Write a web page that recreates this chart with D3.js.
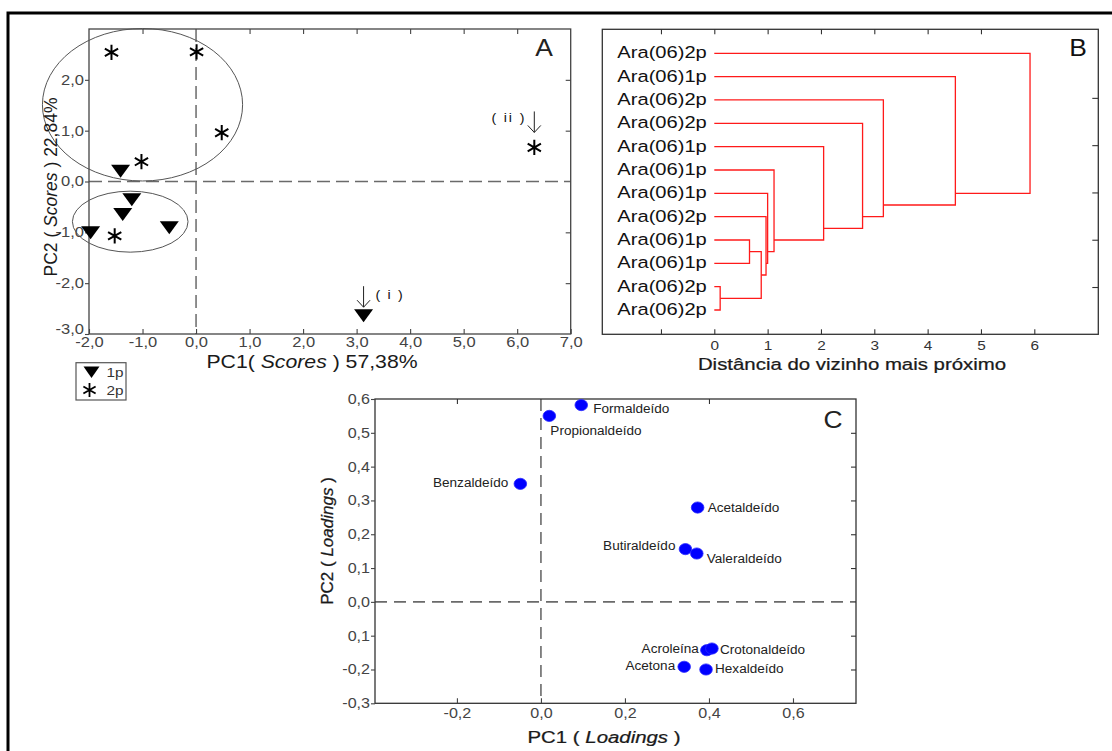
<!DOCTYPE html>
<html><head><meta charset="utf-8">
<script src="https://cdn.jsdelivr.net/npm/d3@7"></script>
<style>
body{margin:0;background:#fff}
svg{display:block}
text{font-family:"Liberation Sans",Arial,Helvetica,sans-serif}
</style>
</head><body>
<svg id="c" width="1112" height="751"></svg>
<script>
// ---------- Panel A : PCA scores ----------
const groupNames = ["1p", "2p"];
const scores1pX = [-1.41, -1.20, -1.37, -1.97, -0.50, 3.13];
const scores1pY = [0.20, -0.36, -0.65, -1.01, -0.91, -2.64];
const scores2pX = [-1.58, 0.01, 0.48, -1.02, -1.52, 6.32];
const scores2pY = [2.54, 2.55, 0.96, 0.39, -1.07, 0.67];
const aXTicks = [-2, -1, 0, 1, 2, 3, 4, 5, 6, 7];
const aYTicks = [-3, -2, -1, 0, 1, 2];
const ellipseCX = [-1.00, -1.23];
const ellipseCY = [1.51, -0.79];
const ellipseRX = [1.87, 1.08];
const ellipseRY = [1.50, 0.60];
const annotLabels = ["( ii )", "( i )"];
const annotGroup = ["2p", "1p"];
const annotX = [6.32, 3.13];
const annotY = [0.67, -2.64];

// ---------- Panel B : dendrogram ----------
const leafLabels = ["Ara(06)2p","Ara(06)1p","Ara(06)2p","Ara(06)2p","Ara(06)1p","Ara(06)1p",
                    "Ara(06)1p","Ara(06)2p","Ara(06)1p","Ara(06)1p","Ara(06)2p","Ara(06)2p"];
// merges (cluster ids: 0..11 leaves, 12.. merges in order)
const mergeLeft  = [10, 8, 13, 7, 6, 5, 4, 3, 2, 1, 0];
const mergeRight = [11, 9, 12, 14, 15, 16, 17, 18, 19, 20, 21];
const mergeDist  = [0.11, 0.66, 0.88, 0.97, 1.00, 1.12, 2.05, 2.78, 3.17, 4.52, 5.92];
const bXTicks = [-1, 0, 1, 2, 3, 4, 5, 6];
const bXTopTicks = [-1, 0, 1, 2, 3, 4, 5];

// ---------- Panel C : PCA loadings ----------
const loadNames = ["Formaldeído","Propionaldeído","Benzaldeído","Acetaldeído","Butiraldeído",
                   "Valeraldeído","Acroleína","Crotonaldeído","Acetona","Hexaldeído"];
const loadX = [0.096, 0.020, -0.049, 0.373, 0.344, 0.371, 0.395, 0.407, 0.341, 0.393];
const loadY = [0.582, 0.550, 0.349, 0.279, 0.156, 0.143, -0.143, -0.138, -0.192, -0.200];
const cXTicks = [-0.2, 0.0, 0.2, 0.4, 0.6];
const cXTickLabels = ["-0,2", "0,0", "0,2", "0,4", "0,6"];
const cYTicks = [0.6, 0.5, 0.4, 0.3, 0.2, 0.1, 0.0, -0.1, -0.2, -0.3];
const cYTickLabels = ["0,6","0,5","0,4","0,3","0,2","0,1","0,0","0,1","-0,2","-0,3"];

// ===================================================
const svg = d3.select("#c");
const SX = 1.18; // horizontal stretch of the reference typography

function label(parent, x, y, parts, o = {}) {
  const g = parent.append("g").attr("transform",
    `translate(${x},${y})` + (o.rot ? ` rotate(${o.rot})` : "") + ` scale(${o.sx ?? SX},1)`);
  const t = g.append("text")
    .attr("text-anchor", o.anchor || "start")
    .attr("font-size", o.size || 14)
    .attr("fill", o.fill || "#222");
  if (o.ls) t.attr("letter-spacing", o.ls);
  if (o.stroke) t.attr("stroke", o.fill || "#222").attr("stroke-width", o.stroke);
  if (typeof parts === "string") parts = [[parts, false]];
  parts.forEach(([s, it]) => {
    const ts = t.append("tspan").text(s);
    if (it) ts.attr("font-style", "italic");
  });
  return t;
}
function stretchTicks(axisG, sx = SX) {
  axisG.selectAll(".tick text").each(function () {
    const el = d3.select(this);
    const x = +el.attr("x") || 0;
    el.attr("transform", `translate(${x},0) scale(${sx},1) translate(${-x},0)`);
  });
}
function styleAxis(g, col, fs) {
  g.select(".domain").remove();
  g.selectAll(".tick line").attr("stroke", col).attr("stroke-width", 1.1);
  g.selectAll(".tick text").attr("fill", col).attr("font-size", fs)
    .attr("font-family", '"Liberation Sans",Arial,sans-serif');
}
const fmt1 = v => v.toFixed(1).replace(".", ",");

// outer frame
svg.append("path").attr("d", "M8,751 V13 H1112").attr("fill", "none")
  .attr("stroke", "#000").attr("stroke-width", 3);

// ---------------- Panel A ----------------
const A = {l: 89, r: 570.7, t: 29, b: 334};
const xA = d3.scaleLinear().domain([-2, 7]).range([A.l, A.r]);
const yA = d3.scaleLinear().domain([-3, 3]).range([A.b, A.t]);
const gA = svg.append("g");

// zero dashed lines
gA.append("line").attr("x1", A.l).attr("x2", A.r).attr("y1", yA(0)).attr("y2", yA(0))
  .attr("stroke", "#6a6a6a").attr("stroke-width", 1.5).attr("stroke-dasharray", "13,6");
gA.append("line").attr("x1", xA(0)).attr("x2", xA(0)).attr("y1", A.t).attr("y2", A.b)
  .attr("stroke", "#6a6a6a").attr("stroke-width", 1.5).attr("stroke-dasharray", "13,6");

gA.append("rect").attr("x", A.l).attr("y", A.t).attr("width", A.r - A.l).attr("height", A.b - A.t)
  .attr("fill", "none").attr("stroke", "#444").attr("stroke-width", 1.3);

let ax = gA.append("g").attr("transform", `translate(0,${A.b})`)
  .call(d3.axisBottom(xA).tickValues(aXTicks).tickSizeInner(-5).tickSizeOuter(0).tickPadding(3).tickFormat(fmt1));
styleAxis(ax, "#444", 14); stretchTicks(ax);
ax = gA.append("g").attr("transform", `translate(${A.l},0)`)
  .call(d3.axisLeft(yA).tickValues(aYTicks).tickSizeInner(4).tickSizeOuter(0).tickPadding(1).tickFormat(fmt1));
styleAxis(ax, "#444", 14); stretchTicks(ax);
// the lowest label sits slightly raised, clear of the x-axis labels
ax.selectAll(".tick text").filter(d => d === aYTicks[0]).attr("y", -5);

ax = gA.append("g").attr("transform", `translate(0,${A.t})`)
  .call(d3.axisTop(xA).tickValues([-1, 1, 2, 3, 4, 5, 6]).tickSizeInner(-5).tickSizeOuter(0).tickFormat(""));
styleAxis(ax, "#444", 14);
ax = gA.append("g").attr("transform", `translate(${A.r},0)`)
  .call(d3.axisRight(yA).tickValues([-2, -1, 1, 2]).tickSizeInner(-5).tickSizeOuter(0).tickFormat(""));
styleAxis(ax, "#444", 14);

// ellipses
ellipseCX.forEach((cx, i) => {
  gA.append("ellipse").attr("cx", xA(cx)).attr("cy", yA(ellipseCY[i]))
    .attr("rx", xA(ellipseRX[i]) - xA(0)).attr("ry", yA(0) - yA(ellipseRY[i]))
    .attr("fill", "none").attr("stroke", "#555").attr("stroke-width", 1);
});

const triDown = {draw(ctx) { ctx.moveTo(-9.5, -6.5); ctx.lineTo(9.5, -6.5); ctx.lineTo(0, 6.5); ctx.closePath(); }};
const triPath = d3.symbol(triDown)();
const astPath = d3.symbol(d3.symbolAsterisk, 165)();

scores1pX.forEach((x, i) => {
  gA.append("path").attr("d", triPath).attr("transform", `translate(${xA(x)},${yA(scores1pY[i])})`)
    .attr("fill", "#000");
});
scores2pX.forEach((x, i) => {
  gA.append("path").attr("d", astPath).attr("transform", `translate(${xA(x)},${yA(scores2pY[i])})`)
    .attr("fill", "none").attr("stroke", "#000").attr("stroke-width", 2);
});

// annotations (arrows)
annotLabels.forEach((lab, i) => {
  const px = xA(annotX[i]), py = yA(annotY[i]);
  const gap = annotGroup[i] === "2p" ? 15 : 8.5;
  const tip = py - gap, top = tip - 21;
  gA.append("path").attr("d", `M${px},${top}V${tip}M${px - 6.5},${tip - 7}L${px},${tip}L${px + 6.5},${tip - 7}`)
    .attr("fill", "none").attr("stroke", "#222").attr("stroke-width", 1);
  if (annotGroup[i] === "2p")
    label(gA, px - 8, top + 10.5, lab, {anchor: "end", size: 12, fill: "#111", ls: 1.6});
  else
    label(gA, px + 12, top + 13, lab, {anchor: "start", size: 12, fill: "#111", ls: 1.4});
});

label(gA, 544, 56, "A", {anchor: "middle", size: 24, fill: "#222", sx: 1.1});
label(gA, 312, 368, [["PC1( ", false], ["Scores", true], [" ) 57,38%", false]],
  {anchor: "middle", size: 18, fill: "#1a1a1a"});
label(gA, 57, 187, [["PC2 ( ", false], ["Scores", true], [" ) 22,84%", false]],
  {anchor: "middle", size: 17.5, fill: "#1a1a1a", rot: -90, sx: 1});

// legend
const lg = svg.append("g");
lg.append("rect").attr("x", 76).attr("y", 362.7).attr("width", 50).attr("height", 37.3)
  .attr("fill", "#fff").attr("stroke", "#555").attr("stroke-width", 1.2);
lg.append("path").attr("d", d3.symbol({draw(ctx){ctx.moveTo(-8,-5.5);ctx.lineTo(8,-5.5);ctx.lineTo(0,6);ctx.closePath();}})())
  .attr("transform", "translate(91.5,372)").attr("fill", "#000");
lg.append("path").attr("d", d3.symbol(d3.symbolAsterisk, 140)()).attr("transform", "translate(89.5,390)")
  .attr("fill", "none").attr("stroke", "#000").attr("stroke-width", 1.8);
label(lg, 106.5, 377, groupNames[0], {size: 13, fill: "#333"});
label(lg, 106.5, 395, groupNames[1], {size: 13, fill: "#333"});

// ---------------- Panel B ----------------
const B = {l: 602.3, r: 1098.3, t: 29.3, b: 334.3};
const xB = d3.scaleLinear().domain([-2.1, 7.2]).range([B.l, B.r]);
const yLeaf = d3.scalePoint().domain(d3.range(leafLabels.length)).range([53.3, 310]);
const yBr = d3.scaleLinear().domain([0, 6.45]).range([B.b, B.t]);
const gB = svg.append("g");
gB.append("rect").attr("x", B.l).attr("y", B.t).attr("width", B.r - B.l).attr("height", B.b - B.t)
  .attr("fill", "none").attr("stroke", "#333").attr("stroke-width", 1.3);
ax = gB.append("g").attr("transform", `translate(0,${B.b})`)
  .call(d3.axisBottom(xB).tickValues(bXTicks).tickSizeInner(-5).tickSizeOuter(0).tickPadding(6)
    .tickFormat(d => d < 0 ? "" : String(d)));
styleAxis(ax, "#333", 13); stretchTicks(ax);
ax = gB.append("g").attr("transform", `translate(0,${B.t})`)
  .call(d3.axisTop(xB).tickValues(bXTopTicks).tickSizeInner(-5).tickSizeOuter(0).tickFormat(""));
styleAxis(ax, "#333", 13);
ax = gB.append("g").attr("transform", `translate(${B.r},0)`)
  .call(d3.axisRight(yBr).tickValues([1, 2, 3, 4, 5]).tickSizeInner(-6).tickSizeOuter(0).tickFormat(""));
styleAxis(ax, "#333", 13);

// node geometry
const nLeaf = leafLabels.length;
const leavesOf = id => id < nLeaf ? [id] : [...leavesOf(mergeLeft[id - nLeaf]), ...leavesOf(mergeRight[id - nLeaf])];
const nodeY = id => d3.mean(leavesOf(id), k => yLeaf(k));
const nodeH = id => id < nLeaf ? 0 : mergeDist[id - nLeaf];
mergeDist.forEach((h, i) => {
  const a = mergeLeft[i], b = mergeRight[i];
  const p = d3.path();
  p.moveTo(xB(nodeH(a)), nodeY(a));
  p.lineTo(xB(h), nodeY(a));
  p.lineTo(xB(h), nodeY(b));
  p.lineTo(xB(nodeH(b)), nodeY(b));
  gB.append("path").attr("d", p.toString()).attr("fill", "none")
    .attr("stroke", "#ff1a1a").attr("stroke-width", 1.3);
});
leafLabels.forEach((s, i) => {
  label(gB, xB(0) - 7.5, yLeaf(i) + 5, s, {anchor: "end", size: 16.5, fill: "#111", sx: 1.22});
});
label(gB, 1078, 55.5, "B", {anchor: "middle", size: 24, fill: "#111", sx: 1.1});
label(gB, 852, 370, "Distância do vizinho mais próximo", {anchor: "middle", size: 17, fill: "#1a1a1a", sx: 1.2, stroke: 0.25});

// ---------------- Panel C ----------------
const C = {l: 375, r: 856, t: 399, b: 703.3};
const xC = d3.scaleLinear().domain([-0.395, 0.75]).range([C.l, C.r]);
const yC = d3.scaleLinear().domain([-0.3, 0.6]).range([C.b, C.t]);
const gC = svg.append("g");
gC.append("line").attr("x1", C.l).attr("x2", C.r).attr("y1", yC(0)).attr("y2", yC(0))
  .attr("stroke", "#6a6a6a").attr("stroke-width", 1.6).attr("stroke-dasharray", "12,7");
gC.append("line").attr("x1", xC(0)).attr("x2", xC(0)).attr("y1", C.t).attr("y2", C.b)
  .attr("stroke", "#6a6a6a").attr("stroke-width", 1.6).attr("stroke-dasharray", "12,7");
gC.append("rect").attr("x", C.l).attr("y", C.t).attr("width", C.r - C.l).attr("height", C.b - C.t)
  .attr("fill", "none").attr("stroke", "#333").attr("stroke-width", 1.3);
ax = gC.append("g").attr("transform", `translate(0,${C.b})`)
  .call(d3.axisBottom(xC).tickValues(cXTicks).tickSizeInner(-5).tickSizeOuter(0).tickPadding(5)
    .tickFormat((d, i) => cXTickLabels[i]));
styleAxis(ax, "#444", 14); stretchTicks(ax, 1.15);
ax = gC.append("g").attr("transform", `translate(${C.l},0)`)
  .call(d3.axisLeft(yC).tickValues(cYTicks).tickSizeInner(4).tickSizeOuter(0).tickPadding(1)
    .tickFormat((d, i) => cYTickLabels[i]));
styleAxis(ax, "#444", 14); stretchTicks(ax, 1.15);
ax = gC.append("g").attr("transform", `translate(0,${C.t})`)
  .call(d3.axisTop(xC).tickValues([-0.2, 0.4]).tickSizeInner(-5).tickSizeOuter(0).tickFormat(""));
styleAxis(ax, "#333", 14);
ax = gC.append("g").attr("transform", `translate(${C.r},0)`)
  .call(d3.axisRight(yC).tickValues([0.5, 0.4, 0.3, 0.2, 0.1, -0.1, -0.2]).tickSizeInner(-5).tickSizeOuter(0).tickFormat(""));
styleAxis(ax, "#333", 14);

// label placement relative to point: [dx, dy, anchor]
const labelSide = {
  "Formaldeído": [12, 8, "start"], "Propionaldeído": [1, 19, "start"],
  "Benzaldeído": [-12, 3, "end"], "Acetaldeído": [10, 4.5, "start"],
  "Butiraldeído": [-10, 1, "end"], "Valeraldeído": [10, 9, "start"],
  "Acroleína": [-8, 3, "end"], "Crotonaldeído": [8, 5, "start"],
  "Acetona": [-9, 3, "end"], "Hexaldeído": [9, 4, "start"]
};
loadNames.forEach((n, i) => {
  const px = xC(loadX[i]), py = yC(loadY[i]);
  gC.append("ellipse").attr("cx", px).attr("cy", py).attr("rx", 6.3).attr("ry", 5.6)
    .attr("fill", "#0000ff").attr("stroke", "#2a2aff").attr("stroke-width", 0.8);
  const [dx, dy, an] = labelSide[n];
  label(gC, px + dx, py + dy, n, {anchor: an, size: 12, fill: "#222", sx: 1.13});
});
label(gC, 833, 428, "C", {anchor: "middle", size: 24, fill: "#222", sx: 1.1});
label(gC, 604, 743, [["PC1 ( ", false], ["Loadings", true], [" )", false]],
  {anchor: "middle", size: 17, fill: "#1a1a1a", sx: 1.2, stroke: 0.25});
label(gC, 333, 541, [["PC2 ( ", false], ["Loadings", true], [" )", false]],
  {anchor: "middle", size: 17, fill: "#1a1a1a", rot: -90, sx: 1, stroke: 0.25});
</script>
</body></html>
